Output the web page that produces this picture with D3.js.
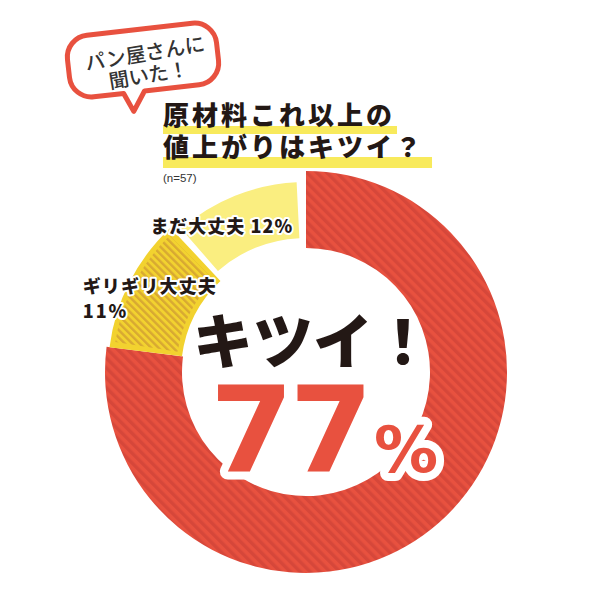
<!DOCTYPE html>
<html>
<head>
<meta charset="utf-8">
<script src="https://cdn.jsdelivr.net/npm/d3@7"></script>
<style>
  html, body { margin: 0; padding: 0; background: #fff; }
  svg { display: block; }
</style>
</head>
<body>
<svg id="chart" width="600" height="600"></svg>
<script>
// ---- data ----
const categories = ["キツイ！", "ギリギリ大丈夫", "まだ大丈夫"];
const values = [77, 11, 12];
const sampleLabel = "(n=57)";
const titleLines = ["原材料これ以上の", "値上がりはキツイ？"];
const bubbleLines = ["パン屋さんに", "聞いた！"];

// ---- layout / style ----
const cx = 306, cy = 372;
const RED = "#E8513F", RED_DARK = "#D6473A";
const YEL_DARK = "#F2D22F", YEL_HATCH = "#D8A932";
const YEL_LIGHT = "#FAEE80", HIGHLIGHT = "#F8EA5C";
const JP = "'Noto Sans CJK JP', 'Noto Sans', sans-serif";
const NUM = "'DejaVu Sans', 'Liberation Sans', sans-serif";

const svg = d3.select("#chart");
const defs = svg.append("defs");

function stripes(id, base, dark, size, band) {
  const p = defs.append("pattern").attr("id", id)
    .attr("patternUnits", "userSpaceOnUse")
    .attr("width", size).attr("height", size)
    .attr("patternTransform", "rotate(-45)");
  p.append("rect").attr("width", size).attr("height", size).attr("fill", base);
  p.append("rect").attr("width", band).attr("height", size).attr("fill", dark);
}
stripes("redStripe", RED, RED_DARK, 7, 3.4);
stripes("yelHatch", YEL_DARK, YEL_HATCH, 5.2, 2.4);

// ---- donut ----
const pie = d3.pie().sort(null).value(d => d);
const arcsData = pie(values);
const g = svg.append("g").attr("transform", `translate(${cx},${cy})`);

// red (77%)
const a0 = arcsData[0];
g.append("path")
  .attr("d", d3.arc().innerRadius(124).outerRadius(201)(a0))
  .attr("fill", "url(#redStripe)");

// dark yellow (11%) with solid border and hatched interior
const a1 = arcsData[1];
g.append("path")
  .attr("d", d3.arc().innerRadius(125).outerRadius(198)(a1))
  .attr("fill", YEL_DARK);
const inset = 5 / 162;
g.append("path")
  .attr("d", d3.arc().innerRadius(130).outerRadius(193)
    .startAngle(a1.startAngle + inset).endAngle(a1.endAngle - inset)())
  .attr("fill", "url(#yelHatch)");

// light yellow (12%)
const a2 = arcsData[2];
g.append("path")
  .attr("d", d3.arc().innerRadius(134).outerRadius(190)
    .startAngle(a2.startAngle + 6 / 162).endAngle(a2.endAngle - 8 / 162)())
  .attr("fill", YEL_LIGHT);

// ---- slice labels ----
const labArc = d3.arc().innerRadius(162).outerRadius(162);
const c1 = labArc.centroid(a1);
const c2 = labArc.centroid(a2);

function haloText(sel) {
  return sel.attr("stroke", "#fff").attr("stroke-width", 4)
    .attr("stroke-linejoin", "round").attr("paint-order", "stroke");
}

const lab2 = g.append("text")
  .attr("x", c2[0] - 96).attr("y", c2[1] + 12)
  .attr("font-family", JP).attr("font-weight", 900)
  .attr("font-size", 18).attr("letter-spacing", 1).attr("fill", "#231815")
  .text(`${categories[2]} ${values[2]}%`);
haloText(lab2);

const lab1 = g.append("text")
  .attr("font-family", JP).attr("font-weight", 900)
  .attr("font-size", 18).attr("letter-spacing", 1.2).attr("fill", "#231815");
lab1.append("tspan").attr("x", c1[0] - 79).attr("y", c1[1] - 5).text(categories[1]);
lab1.append("tspan").attr("x", c1[0] - 79).attr("y", c1[1] + 20).attr("letter-spacing", 2).text(`${values[1]}%`);
haloText(lab1);

// ---- center text ----
g.append("text")
  .attr("x", 7).attr("y", -8)
  .attr("text-anchor", "middle")
  .attr("font-family", JP).attr("font-weight", 900)
  .attr("font-size", 60).attr("fill", "#231815")
  .text(categories[0]);

const big = g.append("text")
  .attr("font-family", NUM).attr("font-weight", 700)
  .attr("fill", RED).attr("stroke", "#fff").attr("stroke-width", 16)
  .attr("stroke-linejoin", "round").attr("paint-order", "stroke");
big.append("tspan").attr("x", -96).attr("y", 100)
  .attr("font-size", 120).attr("letter-spacing", -4).text(values[0]);
big.append("tspan").attr("x", 68).attr("y", 100)
  .attr("font-size", 64).text("%");

// ---- title ----
const titleG = svg.append("g");
const tsize = 26;
titleLines.forEach((t, i) => {
  const y = 125 + i * 32;
  const txt = titleG.append("text")
    .attr("x", 163).attr("y", y)
    .attr("font-family", JP).attr("font-weight", 900)
    .attr("font-size", tsize).attr("letter-spacing", 3)
    .attr("fill", "#231815").text(t);
  const w = txt.node().getComputedTextLength();
  titleG.insert("rect", "text")
    .attr("x", 163).attr("y", y + 1 - i * 1)
    .attr("width", w + 2 + i * 6).attr("height", 8 + i * 3)
    .attr("fill", HIGHLIGHT);
});
svg.append("text")
  .attr("x", 163).attr("y", 182)
  .attr("font-family", "'Liberation Sans', Arial, sans-serif").attr("font-size", 11.5)
  .attr("fill", "#333").text(sampleLabel);

// ---- speech bubble ----
const bw = 150, bh = 62, r = 22;
const bubble = svg.append("g").attr("transform", "translate(143,60) rotate(-6.5)");
const p = d3.path();
p.moveTo(-bw / 2 + r, -bh / 2);
p.lineTo(bw / 2 - r, -bh / 2);
p.arcTo(bw / 2, -bh / 2, bw / 2, -bh / 2 + r, r);
p.lineTo(bw / 2, bh / 2 - r);
p.arcTo(bw / 2, bh / 2, bw / 2 - r, bh / 2, r);
p.lineTo(-2, bh / 2);
p.lineTo(-15, bh / 2 + 19);
p.lineTo(-23, bh / 2);
p.lineTo(-bw / 2 + r, bh / 2);
p.arcTo(-bw / 2, bh / 2, -bw / 2, bh / 2 - r, r);
p.lineTo(-bw / 2, -bh / 2 + r);
p.arcTo(-bw / 2, -bh / 2, -bw / 2 + r, -bh / 2, r);
p.closePath();
bubble.append("path").attr("d", p.toString())
  .attr("fill", "#fff").attr("stroke", RED).attr("stroke-width", 5)
  .attr("stroke-linejoin", "round");
const bt = bubble.append("text").attr("transform", "rotate(-3)")
  .attr("text-anchor", "middle")
  .attr("font-family", JP).attr("font-weight", 500)
  .attr("font-size", 20).attr("fill", "#333");
bubbleLines.forEach((t, i) => {
  bt.append("tspan").attr("x", 3).attr("y", 1 + i * 22).text(t);
});
</script>
</body>
</html>
